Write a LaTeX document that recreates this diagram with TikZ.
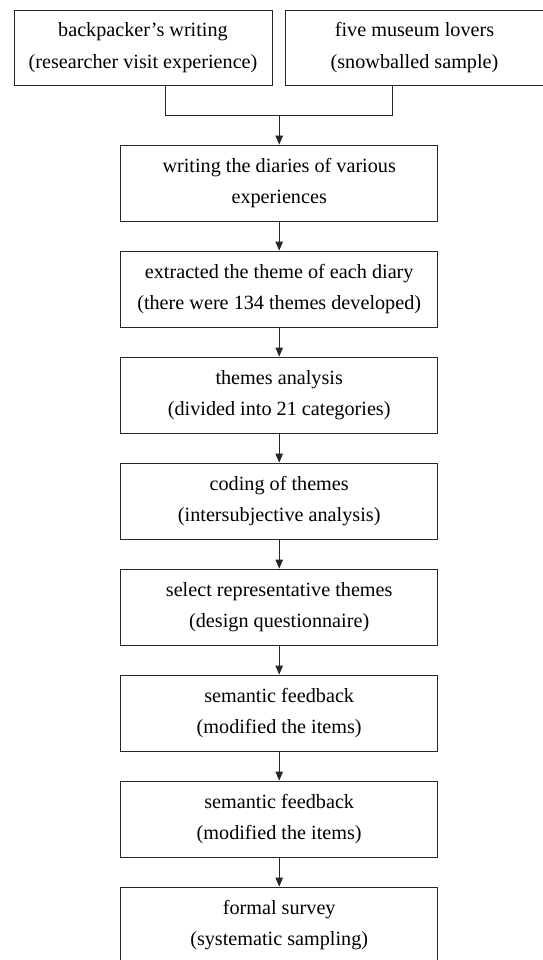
\documentclass[tikz,border=0pt]{standalone}
\usepackage{fontspec}
\setmainfont{Liberation Serif}
\usetikzlibrary{arrows.meta}
\begin{document}
\begin{tikzpicture}[x=1pt,y=-1pt,
  box/.style={draw=black!85, line width=0.9pt, minimum height=76pt, align=center,
    font=\fontsize{20.2}{31.5}\selectfont, inner sep=0pt},
  topbox/.style={box, minimum width=258pt, minimum height=75pt},
  mainbox/.style={box, minimum width=317pt},
  ln/.style={draw=black!85, line width=0.9pt},
  arr/.style={ln, -{Triangle[length=9pt,width=7.5pt]}}]
\useasboundingbox (0,0) rectangle (542,960);
\node[topbox] (a) at (143,47.5) {backpacker’s writing\\(researcher visit experience)};
\node[topbox] (b) at (414.5,47.5) {five museum lovers\\(snowballed sample)};
\node[mainbox] (m1) at (279.2,183) {writing the diaries of various\\experiences};
\node[mainbox] (m2) at (279.2,289) {extracted the theme of each diary\\(there were 134 themes developed)};
\node[mainbox] (m3) at (279.2,395) {themes analysis\\(divided into 21 categories)};
\node[mainbox] (m4) at (279.2,501) {coding of themes\\(intersubjective analysis)};
\node[mainbox] (m5) at (279.2,607) {select representative themes\\(design questionnaire)};
\node[mainbox] (m6) at (279.2,713) {semantic feedback\\(modified the items)};
\node[mainbox] (m7) at (279.2,819) {semantic feedback\\(modified the items)};
\node[mainbox] (m8) at (279.2,925) {formal survey\\(systematic sampling)};
\coordinate (j) at (279.2,115.3);
\draw[ln] ([xshift=22.3pt]a.south) |- (j);
\draw[ln] ([xshift=-21.8pt]b.south) |- (j);
\draw[arr] (j) -- (m1.north);
\draw[arr] (m1) -- (m2);
\draw[arr] (m2) -- (m3);
\draw[arr] (m3) -- (m4);
\draw[arr] (m4) -- (m5);
\draw[arr] (m5) -- (m6);
\draw[arr] (m6) -- (m7);
\draw[arr] (m7) -- (m8);
\end{tikzpicture}
\end{document}
